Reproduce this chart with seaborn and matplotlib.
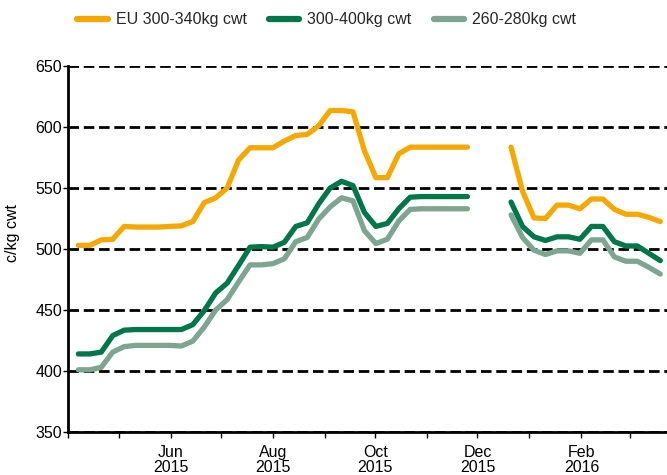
import pandas as pd
import seaborn as sns
import matplotlib.pyplot as plt
import matplotlib.dates as mdates
from matplotlib.lines import Line2D

# weekly prices, two runs with a gap over december
dates_a = pd.date_range("2015-04-07", "2015-11-25", periods=35)
dates_b = pd.date_range("2015-12-21", "2016-03-19", periods=14)

series_names = ["EU 300-340kg cwt", "300-400kg cwt", "260-280kg cwt"]
series_colors = ["#F5A800", "#00764A", "#7DA592"]

eu_a = [503, 503, 507.5, 508, 518.5, 518, 518, 518, 518.5, 519, 522.5, 538,
        542, 550, 573, 583, 583, 583, 588.5, 593, 594, 601, 613.5, 613.5,
        612.5, 580.5, 558.5, 558.5, 578, 583.5, 583.5, 583.5, 583.5, 583.5, 583.5]
eu_b = [583.5, 547.5, 525.5, 525, 536, 536, 533, 541, 541, 532.5, 528.5,
        528.5, 526, 522.5]

mid_a = [414, 414, 415.5, 429, 433.5, 434, 434, 434, 434, 434, 438, 449.5,
         464, 472, 486.5, 501.5, 502, 501.5, 505.5, 518.5, 521.5, 537, 550,
         555.5, 552, 530, 518.5, 521, 533, 542.5, 543, 543, 543, 543, 543]
mid_b = [538.5, 518.5, 510, 507, 510, 510, 508, 518.5, 518.5, 506, 502.5,
         502.5, 496.5, 490.5]

light_a = [401, 401, 403, 415.5, 420, 421, 421, 421, 421, 420.5, 424.5, 436,
           450, 458.5, 473, 487, 487, 488, 492, 506, 509.5, 524.5, 534.5, 542,
           539.5, 515, 504.5, 508, 523, 532.5, 533, 533, 533, 533, 533]
light_b = [528, 509.5, 499, 495.5, 498.5, 498.5, 496.5, 507.5, 507.5, 493.5,
           490, 490, 485, 479.5]

values = {
    series_names[0]: (eu_a, eu_b),
    series_names[1]: (mid_a, mid_b),
    series_names[2]: (light_a, light_b),
}

frames = []
for name, (a, b) in values.items():
    frames.append(pd.DataFrame({"date": dates_a, "price": a, "series": name, "segment": 0}))
    frames.append(pd.DataFrame({"date": dates_b, "price": b, "series": name, "segment": 1}))
df = pd.concat(frames, ignore_index=True)

sns.set_style("white")
plt.rcParams["font.family"] = ["Liberation Sans", "DejaVu Sans"]

fig = plt.figure(figsize=(6.67, 4.75), dpi=100)
ax = fig.add_axes([0.1024, 0.0905, 0.8976, 0.7705])

sns.lineplot(data=df, x="date", y="price", hue="series", units="segment",
             estimator=None, hue_order=series_names,
             palette=dict(zip(series_names, series_colors)),
             linewidth=3.8, solid_capstyle="round", solid_joinstyle="round",
             legend=False, ax=ax)

ax.set_ylim(350, 650)
ax.set_yticks(range(350, 651, 50))
ax.set_xlim(pd.Timestamp("2015-04-01"), pd.Timestamp("2016-03-23"))

ax.xaxis.set_major_locator(mdates.MonthLocator(bymonth=[2, 6, 8, 10, 12]))
ax.xaxis.set_major_formatter(mdates.DateFormatter("%b\n%Y"))
ax.xaxis.set_minor_locator(mdates.MonthLocator())

ax.yaxis.grid(True, color="black", linestyle=(0, (3.8, 1.7)), linewidth=2)
ax.xaxis.grid(False)
ax.set_axisbelow(True)

for side in ["top", "right"]:
    ax.spines[side].set_visible(False)
for side in ["left", "bottom"]:
    ax.spines[side].set_color("black")
    ax.spines[side].set_linewidth(2)
    ax.spines[side].set_zorder(3)

ax.tick_params(axis="x", which="both", direction="out", length=4, width=1,
               color="black", pad=5, labelsize=11.5, labelcolor="black", bottom=True)
ax.tick_params(axis="y", direction="out", length=3.5, width=1, color="black",
               pad=1, labelsize=11.5, labelcolor="black", left=True)
for lab in ax.get_xticklabels():
    lab.set_linespacing(1.05)

ax.set_xlabel("")
ax.set_ylabel("c/kg cwt", fontsize=11.5, color="black")
ax.yaxis.set_label_coords(-0.081, 0.543)

handles = [Line2D([], [], color=c, linewidth=4.5) for c in series_colors]
fig.legend(handles, series_names, loc="center", bbox_to_anchor=(0.49, 0.958),
           ncol=3, frameon=False, handlelength=1.9, handletextpad=0.5,
           columnspacing=1.4, fontsize=11.5)

plt.savefig("out.png", dpi=100)
